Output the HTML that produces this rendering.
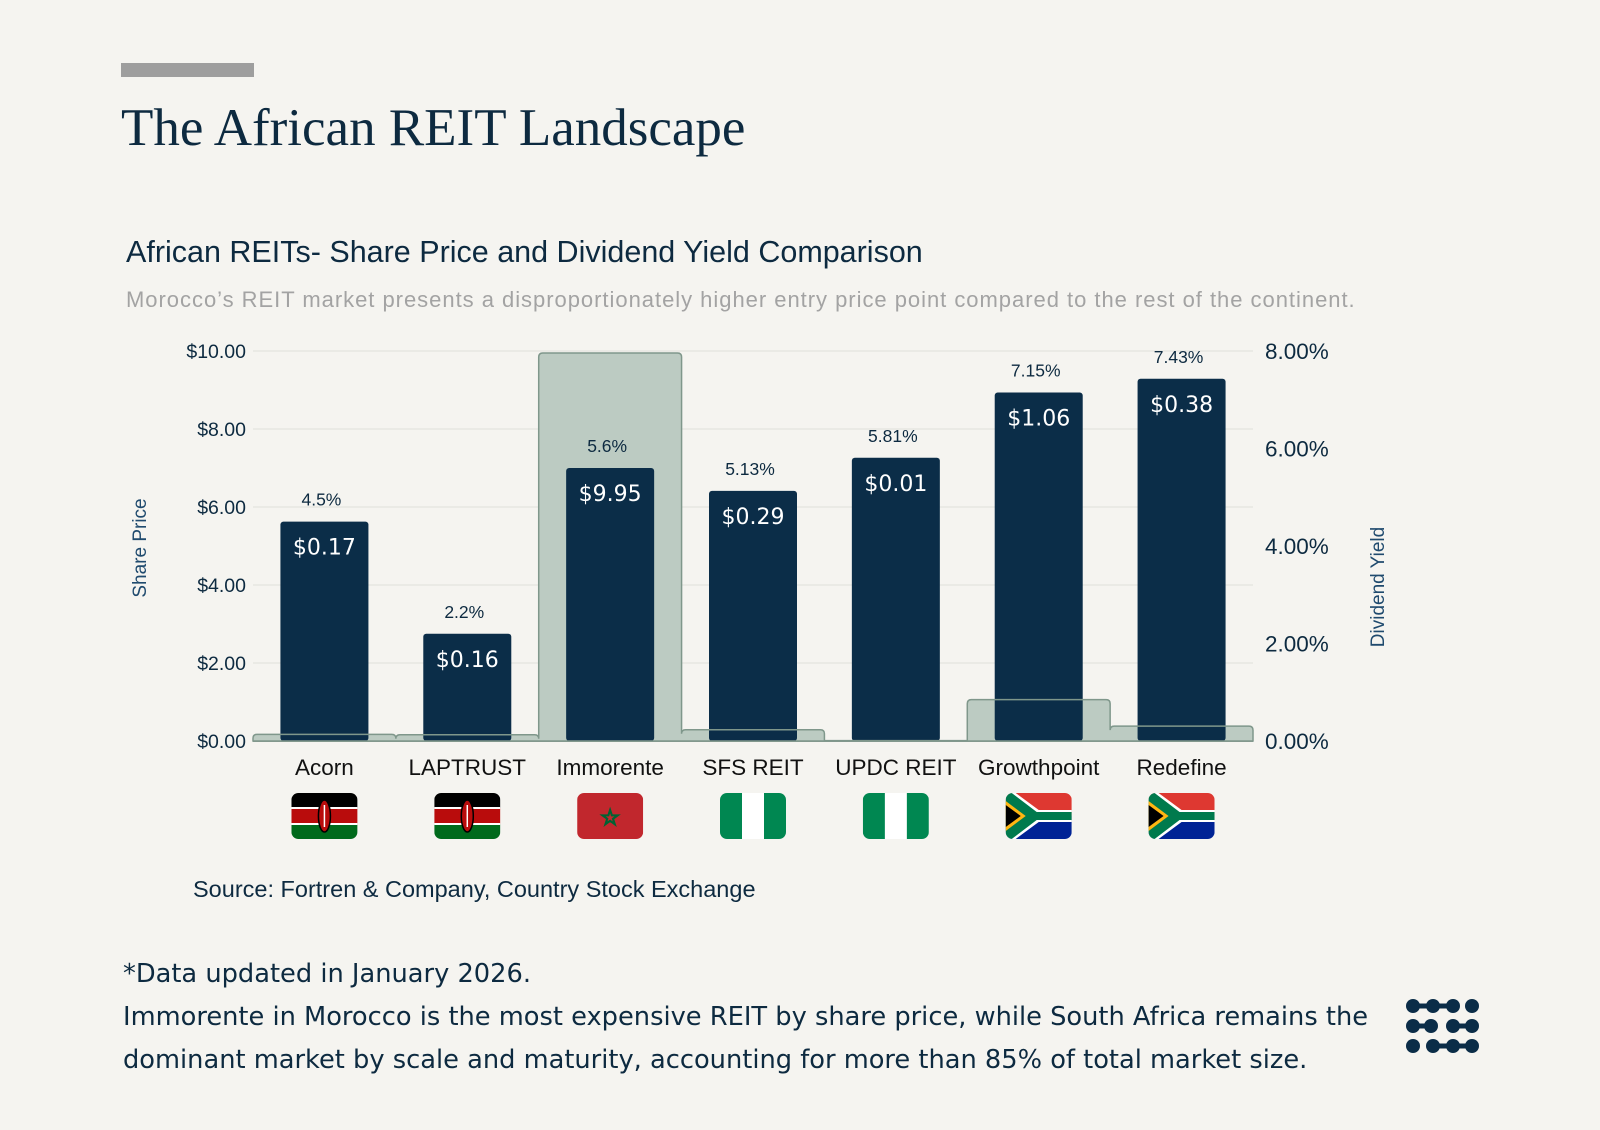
<!DOCTYPE html>
<html><head><meta charset="utf-8"><style>
body{margin:0;background:#f5f4f0;width:1600px;height:1130px;overflow:hidden;position:relative;font-family:"Liberation Sans",sans-serif}
.t{position:absolute;white-space:nowrap}
</style></head><body>
<div style="position:absolute;left:121px;top:63px;width:133px;height:14px;background:#9e9e9e"></div>
<div class="t" style="left:121px;top:98px;font-family:'Liberation Serif',serif;font-size:53px;color:#0d2a40">The African REIT Landscape</div>
<div class="t" style="left:126px;top:235px;font-size:30.5px;color:#0d2a40">African REITs- Share Price and Dividend Yield Comparison</div>
<div class="t" style="left:126px;top:287px;font-size:22px;letter-spacing:0.97px;color:#a3a3a3">Morocco’s REIT market presents a disproportionately higher entry price point compared to the rest of the continent.</div>
<svg id="chart" width="1600" height="880" style="position:absolute;left:0;top:0"></svg>
<div class="t" style="left:193px;top:876px;font-size:23.5px;color:#0d2a40">Source: Fortren &amp; Company, Country Stock Exchange</div>
<div class="t" style="left:123px;top:953px;font-family:'DejaVu Sans',sans-serif;font-size:25.7px;line-height:43px;color:#0d2a40">*Data updated in January 2026.<br>Immorente in Morocco is the most expensive REIT by share price, while South Africa remains the<br>dominant market by scale and maturity, accounting for more than 85% of total market size.</div>
<svg style="position:absolute;left:1405px;top:998px" width="76" height="56" viewBox="0 0 76 56">
<g stroke="#0b2d48" stroke-width="5" fill="#0b2d48">
<line x1="8" y1="8" x2="48" y2="8"/><line x1="8" y1="28" x2="26" y2="28"/><line x1="48" y1="28" x2="66" y2="28"/><line x1="28" y1="48" x2="66" y2="48"/>
</g>
<g fill="#0b2d48"><circle cx="8" cy="8" r="7"/><circle cx="28" cy="8" r="7"/><circle cx="48" cy="8" r="7"/><circle cx="67" cy="8" r="7"/>
<circle cx="8" cy="28" r="7"/><circle cx="26" cy="28" r="7"/><circle cx="48" cy="28" r="7"/><circle cx="67" cy="28" r="7"/>
<circle cx="8" cy="48" r="7"/><circle cx="28" cy="48" r="7"/><circle cx="48" cy="48" r="7"/><circle cx="67" cy="48" r="7"/></g>
</svg>
<script>
const categories=["Acorn","LAPTRUST","Immorente","SFS REIT","UPDC REIT","Growthpoint","Redefine"];
const sharePrice=[0.17,0.16,9.95,0.29,0.01,1.06,0.38];
const dividendYield=[4.5,2.2,5.6,5.13,5.81,7.15,7.43];
const yieldLabels=["4.5%","2.2%","5.6%","5.13%","5.81%","7.15%","7.43%"];
const priceLabels=["$0.17","$0.16","$9.95","$0.29","$0.01","$1.06","$0.38"];
const countries=["KE","KE","MA","NG","NG","ZA","ZA"];
const leftTicks=[0,2,4,6,8,10];
const rightTicks=[0,2,4,6,8];
const NS="http://www.w3.org/2000/svg";
const svg=document.getElementById('chart');
const L=253,R=1253,T=351,B=741;
const band=(R-L)/categories.length;
const yL=v=>B-(v/10)*(B-T);
const yR=v=>B-(v/8)*(B-T);
const xC=i=>L+band*(i+0.5);
function mk(tag,a,p){const e=document.createElementNS(NS,tag);for(const k in a)e.setAttribute(k,a[k]);(p||svg).appendChild(e);return e;}
leftTicks.forEach(v=>{
 const g=mk('line',{x1:L,x2:R,y1:yL(v),y2:yL(v),stroke:v===0?'#8a9a92':'#e4e3de','stroke-width':v===0?2:1.2});
 
 
 const t=mk('text',{x:246,y:yL(v)+7,'text-anchor':'end','font-size':19.5,fill:'#0d2a40'});
 t.textContent='$'+v.toFixed(2);
 
 
});
rightTicks.forEach(v=>{
 const t=mk('text',{x:1265,y:yR(v)+8,'font-size':22.5,fill:'#0d2a40'});
 t.textContent=v.toFixed(2)+'%';
 
 
});
let a=mk('text',{transform:'translate(146,548) rotate(-90)','text-anchor':'middle','font-size':19,fill:'#1f4a6e'});a.textContent='Share Price';


a=mk('text',{transform:'translate(1384,587) rotate(-90)','text-anchor':'middle','font-size':19,fill:'#1f4a6e'});a.textContent='Dividend Yield';


let d='M'+L+','+B;
sharePrice.forEach((v,i)=>{const x0=L+band*i,x1=x0+band,y=yL(v),r=Math.min(4,B-y);d+=' L'+x0+','+(y+r)+' Q'+x0+','+y+' '+(x0+r)+','+y+' L'+(x1-r)+','+y+' Q'+x1+','+y+' '+x1+','+(y+r);});
d+=' L'+R+','+B+' Z';
const area=mk('path',{d:d,fill:'#bccbc2',stroke:'none'});


const bw=88;
dividendYield.forEach((v,i)=>{
 const b=mk('rect',{x:xC(i)-bw/2,y:yR(v),width:bw,height:B-yR(v),rx:3,fill:'#0b2d48'});
 
 
});
const line=mk('path',{d:d,fill:'none',stroke:'#7f978b','stroke-width':1.5});


dividendYield.forEach((v,i)=>{
 let t=mk('text',{x:xC(i)-3,y:yR(v)-16,'text-anchor':'middle','font-size':17.5,fill:'#0d2a40'});t.textContent=yieldLabels[i];
 
 
 t=mk('text',{x:xC(i),y:yR(v)+33,'text-anchor':'middle','font-size':22,fill:'#fff','font-family':'DejaVu Sans,sans-serif'});t.textContent=priceLabels[i];
 
 
 t=mk('text',{x:xC(i),y:775,'text-anchor':'middle','font-size':22.5,fill:'#111'});t.textContent=categories[i];
 
 
 const g=mk('g',{transform:'translate('+(xC(i)-33)+',793)'});
 
 
 const id='c'+i;
 const cp=mk('clipPath',{id:id},g);mk('rect',{width:66,height:46,rx:7},cp);
 const f=mk('g',{'clip-path':'url(#'+id+')'},g);
 const c=countries[i];
 if(c==='KE'){mk('rect',{width:66,height:15,fill:'#000'},f);mk('rect',{y:15,width:66,height:16,fill:'#b90c0c'},f);mk('rect',{y:31,width:66,height:15,fill:'#006a1c'},f);
  mk('rect',{y:14,width:66,height:2,fill:'#fff'},f);mk('rect',{y:30,width:66,height:2,fill:'#fff'},f);
  mk('ellipse',{cx:33,cy:23,rx:6,ry:16,fill:'#b90c0c',stroke:'#000','stroke-width':1.5},f);mk('line',{x1:33,y1:12,x2:33,y2:34,stroke:'#fff','stroke-width':1.5},f);}
 else if(c==='MA'){mk('rect',{width:66,height:46,fill:'#c1272d'},f);const s=mk('text',{x:33,y:32,'text-anchor':'middle','font-size':22,fill:'none',stroke:'#006233','stroke-width':1.5,'font-family':'DejaVu Sans'},f);s.textContent='☆';}
 else if(c==='NG'){mk('rect',{width:66,height:46,fill:'#008751'},f);mk('rect',{x:22,width:22,height:46,fill:'#fff'},f);}
 else{mk('rect',{width:66,height:23,fill:'#de3831'},f);mk('rect',{y:23,width:66,height:23,fill:'#002395'},f);
  mk('path',{d:'M0,0 L28,23 L0,46 Z M0,0 L10,0 L33,17 L66,17 L66,29 L33,29 L10,46 L0,46Z',fill:'#fff'},f);
  mk('path',{d:'M0,3 L27,23 L0,43 Z M0,0 L6,0 L31,19 L66,19 L66,27 L31,27 L6,46 L0,46Z',fill:'#007a4d'},f);
  mk('path',{d:'M0,8 L20,23 L0,38 Z',fill:'#ffb612'},f);mk('path',{d:'M0,12 L15,23 L0,34 Z',fill:'#000'},f);}
});
</script>
</body></html>
